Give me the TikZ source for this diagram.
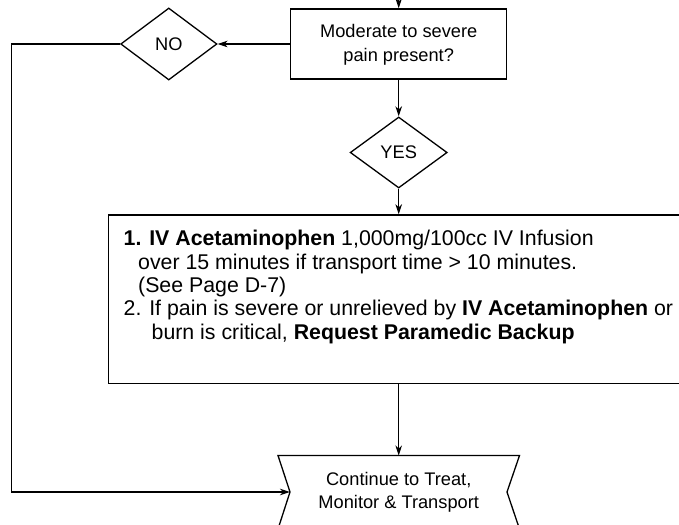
\documentclass[tikz,border=0pt]{standalone}
\usepackage{fontspec}
\setmainfont{Liberation Sans}
\usetikzlibrary{arrows.meta,shapes.geometric}
\begin{document}
\begin{tikzpicture}[x=1bp,y=-1bp,
  line width=1.3bp,
  arr/.style={-{Stealth[length=10bp,width=6.5bp,inset=3bp]}},
  dec/.style={draw,diamond,minimum width=96bp,minimum height=72bp,inner sep=0pt,font=\fontsize{18.3}{22}\selectfont},
  txt/.style={align=center,inner sep=0pt,font=\fontsize{18.3}{24}\selectfont},
  stepline/.style={anchor=base west,inner sep=0pt,font=\fontsize{21.4}{24}\selectfont}]
\useasboundingbox (0,0) rectangle (679,525);
\clip (0,0) rectangle (679,525);
% top question box
\node[draw,minimum width=216bp,minimum height=70bp,inner sep=0pt] (q) at (398.7,44) {};
\node[txt] (qt) at (398.7,44.5) {Moderate to severe\\pain present?};
\coordinate (in) at (398.7,-5);
\draw[arr] (in) -- (q.north);
% NO diamond
\node[dec,minimum width=96.3bp] (no) at (168.8,44) {NO};
\draw[arr] (q.west) -- (no.east);
% YES diamond
\node[dec,minimum width=97bp,minimum height=71bp] (yes) at (398.7,152.5) {YES};
\draw[arr] (q.south) -- (yes.north);
% big instruction box
\node[draw,minimum width=576bp,minimum height=168.5bp,inner sep=0pt,anchor=north west] (box) at (108,214.3) {};
\draw[arr] (yes.south) -- (box.north -| yes.south);
\node[stepline] (s1) at (123,246) {\textbf{1. IV Acetaminophen} 1,000mg/100cc IV Infusion};
\node[stepline] (s2) at (137.5,269.3) {over 15 minutes if transport time > 10 minutes.};
\node[stepline] (s3) at (137.5,292.6) {(See Page D-7)};
\node[stepline] (s4) at (123,315.9) {2. If pain is severe or unrelieved by \textbf{IV Acetaminophen} or};
\node[stepline] (s5) at (151,339.2) {burn is critical, \textbf{Request Paramedic Backup}};
% continue node
\coordinate (cnw) at (278,455.5);
\coordinate (cw) at (290,492);
\coordinate (cne) at (519.5,455.5);
\coordinate (ce) at (507,492);
\coordinate (ctop) at (398.7,455.5);
\draw (278,529) -- (cw) -- (cnw) -- (cne) -- (ce) -- (519.5,529);
\node[txt,font=\fontsize{18.3}{23}\selectfont] (cont) at (398.7,492) {Continue to Treat,\\Monitor \& Transport};
\draw[arr] (box.south -| yes.south) -- (ctop);
% NO path
\coordinate (c1) at (11.7,44);
\coordinate (c2) at (11.7,492);
\draw[arr] (no.west) -- (c1) -- (c2) -- (cw);
\end{tikzpicture}
\end{document}
